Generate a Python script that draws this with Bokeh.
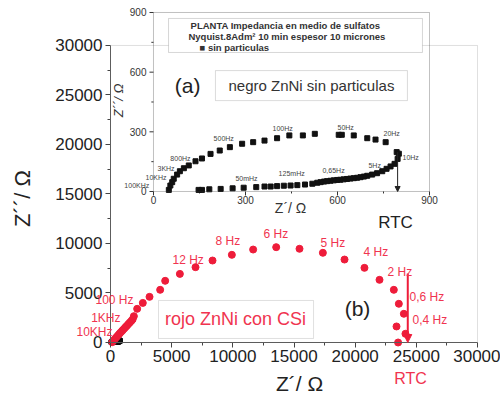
import numpy as np
from bokeh.plotting import figure
from bokeh.models import (Range1d, FixedTicker, BoxAnnotation, Label, Arrow, NormalHead, LinearAxis)
from bokeh.embed import file_html
from bokeh.resources import INLINE

# ---------------- data ----------------
# (b) rojo ZnNi con CSi  (main plot, ohm)
red_zre = [140, 260, 380, 500, 620, 740, 860, 980, 1100, 1220, 1340, 1460, 1580, 1700, 1810, 1910,
           2180, 2640, 3190, 4060, 4470, 5670, 6950, 8340, 9920, 11660, 13545, 15450, 17360,
           19130, 20760, 21990, 23160, 23570, 23980, 23380, 24110, 23510]
red_zim = [30, 210, 390, 560, 730, 900, 1060, 1220, 1380, 1540, 1700, 1860, 2020, 2180, 2340, 2660,
           3400, 4000, 4610, 5320, 6230, 6930, 7610, 8280, 8855, 9390, 9630, 9465, 9060,
           8380, 7540, 6330, 5320, 3910, 2900, 1620, 880, 0]
red_rtc = 24300
red_rtc_top = 6970

# (a) negro ZnNi sin particulas (inset, ohm)
black_zre = [50, 55, 61, 66, 77, 86, 99, 115, 137, 158, 186, 216, 249, 289, 325, 362, 403, 443, 487,
             526, 604, 614, 653, 697, 724, 757,
             793, 800, 796, 786, 773, 760, 746, 729, 713, 697, 686, 675, 664, 653, 642, 631, 620,
             609, 599, 588, 577, 566, 556, 545, 534, 518, 494, 469, 447, 425, 403, 382, 362, 335,
             294, 258, 219, 182, 158, 147]
black_zim = [8, 30, 47, 64, 85, 102, 117, 131, 152, 166, 189, 206, 223, 240, 248, 256, 268, 282, 282,
             290, 285, 285, 282, 268, 261, 248,
             198, 190, 164, 139, 126, 114, 102, 92, 85, 79, 75, 72, 69, 67, 65, 63, 61,
             59, 58, 56, 54, 52, 50, 47, 44, 39, 35, 32, 30, 29, 27, 25, 25, 22,
             19, 16, 13, 11, 8, 8]
black_rtc = 796
black_rtc_top = 198

main_ticks = [0, 5000, 10000, 15000, 20000, 25000, 30000]
main_minor = [2500, 7500, 12500, 17500, 22500, 27500]
inset_ticks = [0, 300, 600, 900]
inset_minor = [150, 450, 750]
inset_tick_labels = ["0", "300", "600", "900"]

red_freq = ["100 Hz", "1KHz", "10KHz", "12 Hz", "8 Hz", "6 Hz", "5 Hz", "4 Hz", "2 Hz", "0,6 Hz", "0,4 Hz"]
black_freq = ["100KHz", "10KHz", "3KHz", "800Hz", "500Hz", "100Hz", "50Hz", "20Hz", "10Hz",
              "5Hz", "0,65Hz", "125mHz", "50mHz"]

# ---------------- annotation anchors ----------------
red_freq_pos = [(1880, 4242, "right"), (817, 2424, "right"), (163, 1010, "right"),
                (5068, 8283, "left"), (8583, 10202, "left"), (12507, 10909, "left"),
                (17167, 10000, "left"), (20682, 9091, "left"), (22644, 7071, "left"),
                (24442, 4646, "left"), (24687, 2222, "left")]
black_freq_pos = [(-95, 30), (-26, 70), (13, 116), (55, 166), (196, 266), (388, 317), (600, 322),
                  (750, 292), (812, 171), (701, 131), (551, 106), (408, 91), (267, 65)]

RED = "#ee1c3a"
RED_T = "#f0344f"
FONT = "Liberation Sans"

p = figure(width=500, height=398, x_range=Range1d(-8992, 31880), y_range=Range1d(-5657, 34545),
           output_backend="svg", toolbar_location=None, title=None,
           x_axis_location=None, y_axis_location=None,
           min_border_left=0, min_border_right=0, min_border_top=0, min_border_bottom=0)
p.extra_x_ranges = {"ix": Range1d(-498.9, 1131.5)}
p.extra_y_ranges = {"iy": Range1d(-1040.8, 960.3)}
p.outline_line_color = None
p.grid.visible = False
p.background_fill_color = "white"
p.border_fill_color = "white"

xax = LinearAxis(fixed_location=0, bounds=(0, 30000))
yax = LinearAxis(fixed_location=0, bounds=(0, 30000))
for ax in (xax, yax):
    ax.ticker = FixedTicker(ticks=main_ticks, minor_ticks=main_minor)
    ax.major_label_text_font = FONT
    ax.major_label_text_font_size = "17px"
    ax.major_label_text_color = "#222222"
    ax.axis_line_color = "#444444"
    ax.major_tick_line_color = "#444444"
    ax.minor_tick_line_color = "#444444"
    ax.major_tick_in = 0
    ax.major_tick_out = 5
    ax.minor_tick_in = 0
    ax.minor_tick_out = 3
    ax.major_label_standoff = 3
p.add_layout(xax, "below")
p.add_layout(yax, "left")

# main frame border
p.add_layout(BoxAnnotation(left=0, right=30000, bottom=0, top=30000, fill_alpha=0,
                           line_color="#999999", line_width=1))

# axis titles
p.add_layout(Label(x=-7194, y=14545, text="Z´´/ Ω", angle=np.pi / 2, text_align="center",
                   text_baseline="middle", text_font=FONT, text_font_size="22px", text_color="#222222"))
p.add_layout(Label(x=15450, y=-4140, text="Z´/ Ω", text_align="center",
                   text_baseline="middle", text_font=FONT, text_font_size="21px", text_color="#222222"))

# ---------- inset frame & axes ----------
IX = dict(x_range_name="ix", y_range_name="iy")
p.add_layout(BoxAnnotation(left=0, right=900, bottom=0, top=900, fill_alpha=0,
                           line_color="#333333", line_width=1, **IX))
p.segment(x0=inset_ticks, y0=[0] * 4, x1=inset_ticks, y1=[-20] * 4, line_color="#333333", **IX)
p.segment(x0=inset_minor, y0=[0] * 3, x1=inset_minor, y1=[-10] * 3, line_color="#333333", **IX)
p.segment(x0=[0] * 4, y0=inset_ticks, x1=[-13] * 4, y1=inset_ticks, line_color="#333333", **IX)
p.segment(x0=[0] * 3, y0=inset_minor, x1=[-7] * 3, y1=inset_minor, line_color="#333333", **IX)
for v, t in zip(inset_ticks, inset_tick_labels):
    p.add_layout(Label(x=v, y=-22, text=t, text_align="center", text_baseline="top",
                       text_font=FONT, text_font_size="10px", text_color="#333333", **IX))
    p.add_layout(Label(x=-23, y=v, text=t, text_align="right", text_baseline="middle",
                       text_font=FONT, text_font_size="10px", text_color="#333333", **IX))
p.add_layout(Label(x=-114, y=458, text="Z´´/ Ω", angle=np.pi / 2, text_align="center",
                   text_baseline="middle", text_font=FONT, text_font_size="13px",
                   text_font_style="italic", text_color="#333333", **IX))
p.add_layout(Label(x=447, y=-85, text="Z´/ Ω", text_align="center", text_baseline="middle",
                   text_font=FONT, text_font_size="14px", text_color="#333333", **IX))

# inset legend box
p.add_layout(BoxAnnotation(left=49, right=877, bottom=699, top=870, fill_color="white", fill_alpha=1,
                           line_color="#777777", line_width=1, **IX))
p.add_layout(Label(x=121, y=835, text="PLANTA Impedancia en medio de sulfatos", text_baseline="middle",
                   text_font=FONT, text_font_size="9.5px", text_font_style="bold", text_color="#333333", **IX))
p.add_layout(Label(x=114, y=779, text="Nyquist.8Adm² 10 min  espesor 10 micrones", text_baseline="middle",
                   text_font=FONT, text_font_size="9.5px", text_font_style="bold", text_color="#333333", **IX))
p.add_layout(Label(x=150, y=724, text="■    sin particulas", text_baseline="middle",
                   text_font=FONT, text_font_size="9.5px", text_font_style="bold", text_color="#333333", **IX))

# (a) box
p.add_layout(BoxAnnotation(left=202, right=828, bottom=457, top=608, fill_color="white", fill_alpha=1,
                           line_color="#888888", line_width=1, **IX))
p.add_layout(Label(x=515, y=533, text="negro ZnNi sin particulas", text_align="center", text_baseline="middle",
                   text_font=FONT, text_font_size="15px", text_color="#333333", **IX))
p.add_layout(Label(x=111, y=533, text="(a)", text_align="center", text_baseline="middle",
                   text_font=FONT, text_font_size="21px", text_color="#222222", **IX))

# inset data
p.scatter(black_zre, black_zim, marker="square", size=5, color="#111111", **IX)
p.add_layout(Arrow(x_start=black_rtc, y_start=black_rtc_top, x_end=black_rtc, y_end=0,
                   line_color="#222222", line_width=1,
                   end=NormalHead(size=5, fill_color="#222222", line_color="#222222"), **IX))
for t, (x, y) in zip(black_freq, black_freq_pos):
    p.add_layout(Label(x=x, y=y, text=t, text_baseline="middle", text_font=FONT,
                       text_font_size="7px", text_color="#444444", **IX))

# ---------- main data ----------
p.scatter(black_zre, black_zim, marker="square", size=4, color="#111111")
p.scatter(red_zre, red_zim, size=7, color=RED)
p.add_layout(Arrow(x_start=red_rtc, y_start=red_rtc_top, x_end=red_rtc, y_end=0,
                   line_color=RED, line_width=2,
                   end=NormalHead(size=8, fill_color=RED, line_color=RED)))
for t, (x, y, al) in zip(red_freq, red_freq_pos):
    p.add_layout(Label(x=x, y=y, text=t, text_align=al, text_baseline="middle", text_font=FONT,
                       text_font_size="12px", text_color=RED_T))

p.add_layout(BoxAnnotation(left=3924, right=16596, bottom=404, top=4242, fill_color="white", fill_alpha=1,
                           line_color="#999999", line_width=1))
p.add_layout(Label(x=10218, y=2323, text="rojo ZnNi con CSi", text_align="center", text_baseline="middle",
                   text_font=FONT, text_font_size="18px", text_color=RED_T))
p.add_layout(Label(x=20190, y=3434, text="(b)", text_align="center", text_baseline="middle",
                   text_font=FONT, text_font_size="21px", text_color="#222222"))
p.add_layout(Label(x=23300, y=12121, text="RTC", text_align="center", text_baseline="middle",
                   text_font=FONT, text_font_size="17px", text_color="#222222"))
p.add_layout(Label(x=24524, y=-3636, text="RTC", text_align="center", text_baseline="middle",
                   text_font=FONT, text_font_size="16px", text_color=RED_T))

open("out.html", "w").write(file_html(p, INLINE))
